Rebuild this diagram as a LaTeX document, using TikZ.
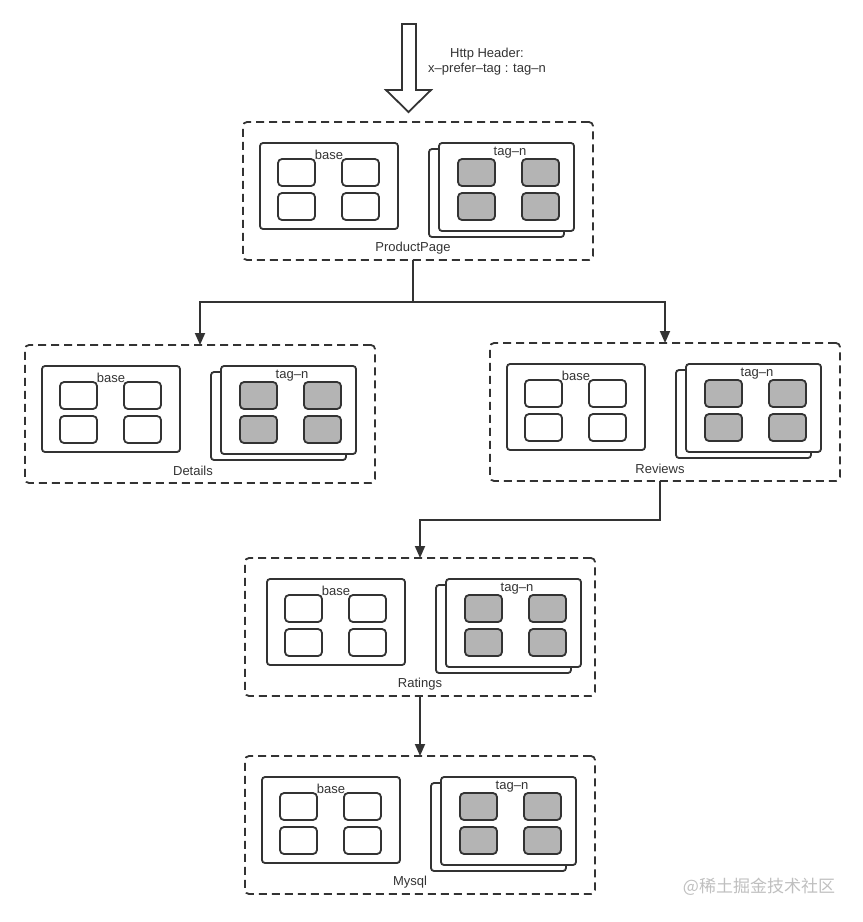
\documentclass[tikz,border=0pt]{standalone}
\usepackage{fontspec}
\setmainfont{Liberation Sans}
\newfontfamily\cjk{Noto Sans CJK SC}
\usetikzlibrary{arrows.meta,calc}
\definecolor{ink}{HTML}{333333}
\definecolor{cellgray}{HTML}{B4B4B4}
\tikzset{
  grpbox/.style={draw=ink, line width=1.8pt, dash pattern=on 8pt off 5pt, rounded corners=4pt,
    minimum width=350pt, minimum height=138pt, inner sep=0pt, outer sep=0pt},
  podbox/.style={draw=ink, fill=white, line width=1.8pt, rounded corners=3pt,
    inner sep=0pt, outer sep=0pt, anchor=north west},
  basebox/.style={podbox, minimum width=138pt, minimum height=86pt},
  tagbox/.style={podbox, minimum width=135pt, minimum height=88pt},
  cellw/.style={podbox, rounded corners=4pt, minimum width=37pt, minimum height=27pt},
  cellg/.style={cellw, fill=cellgray},
  lbl/.style={text=ink, font=\fontsize{13}{15}\selectfont, inner sep=0pt},
  conn/.style={draw=ink, line width=1.8pt},
  arr/.style={conn, -{Triangle[width=10pt,length=12pt]}}
}
\newcommand\svcgroup[6]{% name, x, y, label, content dx, label x
  \node[grpbox, anchor=north west] (#1) at (#2,#3) {};
  \begin{scope}[shift={(#2+#5,#3)}]
    \node[basebox] (#1-base) at (17,21) {};
    \node[cellw] (#1-b1) at (35,37) {};
    \node[cellw] (#1-b2) at (99,37) {};
    \node[cellw] (#1-b3) at (35,71) {};
    \node[cellw] (#1-b4) at (99,71) {};
    \node[lbl] (#1-bl) at (86,33) {base};
    \node[tagbox] (#1-back) at (186,27) {};
    \node[tagbox] (#1-front) at (196,21) {};
    \node[cellg] (#1-g1) at (215,37) {};
    \node[cellg] (#1-g2) at (279,37) {};
    \node[cellg] (#1-g3) at (215,71) {};
    \node[cellg] (#1-g4) at (279,71) {};
    \node[lbl] (#1-tl) at (267,31) {tag–n};
  \end{scope}
  \node[lbl] (#1-name) at (#2+#6,#3+126) {#4};
}
\begin{document}
\begin{tikzpicture}[x=1pt,y=-1pt]
\useasboundingbox (0,0) rectangle (863,922);
% incoming hollow arrow
\draw[ink, line width=1.8pt, line join=miter, fill=white]
  (402,24) -- (416,24) -- (416,90) -- (431,90) -- (408.5,112) -- (386,90) -- (402,90) -- cycle;
\node[lbl, align=center] (hdr) at (487,62) {Http Header:\\x–prefer–tag : tag–n};
\svcgroup{pp}{243}{122}{ProductPage}{0}{170}
\svcgroup{det}{25}{345}{Details}{0}{168}
\svcgroup{rev}{490}{343}{Reviews}{0}{170}
\svcgroup{rat}{245}{558}{Ratings}{5}{175}
\svcgroup{mys}{245}{756}{Mysql}{0}{165}
\coordinate (j1) at (413,302);
\draw[conn] (pp.south -| j1) -- (j1);
\draw[arr] (j1) -| (det.north);
\draw[arr] (j1) -| (rev.north);
\coordinate (j2) at (660,520);
\draw[arr] (rev.south -| j2) -- (j2) -| (rat.north);
\draw[arr] (rat.south) -- (mys.north);
\node[text=black!25, font=\cjk\fontsize{17}{20}\selectfont, inner sep=0pt] (wm) at (759,887) {@稀土掘金技术社区};
\end{tikzpicture}
\end{document}
